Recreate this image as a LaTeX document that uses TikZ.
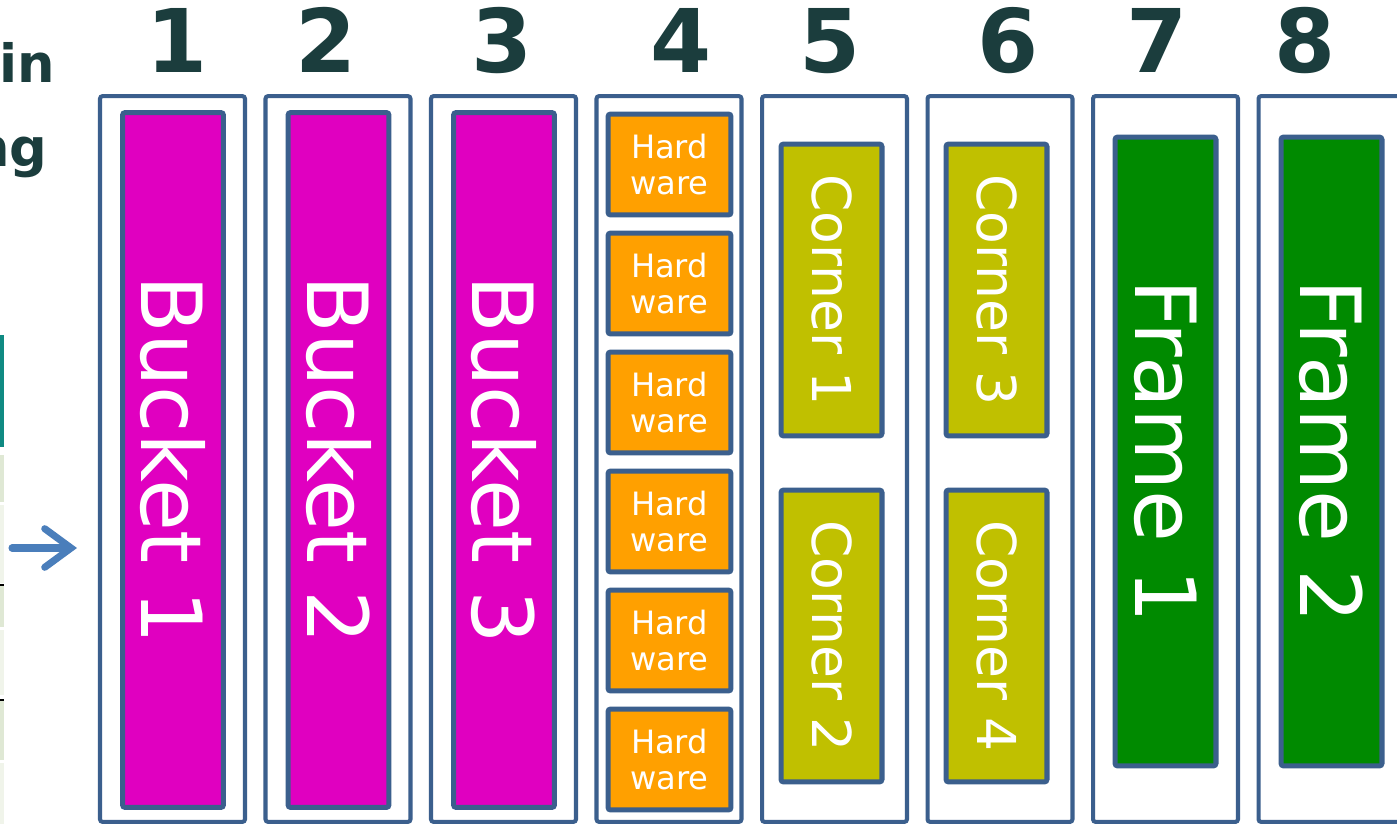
\documentclass[tikz,border=0pt]{standalone}
\usepackage{fontspec}
\setmainfont{DejaVu Sans}
\usepackage{xcolor}
\definecolor{cEdge}{HTML}{3B5F8D}
\definecolor{cBucket}{HTML}{E000C0}
\definecolor{cHw}{HTML}{FFA000}
\definecolor{cCorner}{HTML}{C0C000}
\definecolor{cFrame}{HTML}{008A00}
\definecolor{cNum}{HTML}{1B3D3D}
\definecolor{cArrow}{HTML}{4A7EBB}
\definecolor{cTeal}{HTML}{0F8A82}
\definecolor{cCellA}{HTML}{DFE8D4}
\definecolor{cCellB}{HTML}{F0F4EA}
\usepackage{tikz}
\usetikzlibrary{positioning,arrows.meta}
\tikzset{
  col-box/.style={draw=cEdge,line width=2.3pt,rounded corners=1.5pt,
    minimum width=2.9cm,minimum height=14.52cm,inner sep=0pt},
  part-box/.style={draw=cEdge,line width=2.85pt,rounded corners=1.5pt,
    inner sep=0pt,text=white},
  bucket-box/.style={part-box,fill=cBucket,rotate=-90,
    minimum width=13.9cm,minimum height=2.02cm,
    font=\fontsize{48}{52}\selectfont},
  hw-box/.style={part-box,fill=cHw,align=center,
    minimum width=2.46cm,minimum height=2.02cm,
    font=\fontsize{18.3}{21}\selectfont},
  corner-box/.style={part-box,fill=cCorner,rotate=-90,
    minimum width=5.84cm,minimum height=2.02cm,
    font=\fontsize{30.5}{34}\selectfont},
  frame-box/.style={part-box,fill=cFrame,rotate=-90,
    minimum width=12.58cm,minimum height=2.02cm,
    font=\fontsize{48}{52}\selectfont},
  col-num/.style={text=cNum,anchor=base,inner sep=0pt,
    font=\bfseries\fontsize{50}{56}\selectfont},
  side-text/.style={text=cNum,anchor=base east,inner sep=0pt,
    font=\bfseries\fontsize{30}{34}\selectfont},
  arrow/.style={-{Straight Barb[length=15pt,width=22pt,line cap=round]},
    line width=4pt,line cap=round,draw=cArrow},
}
\begin{document}
\begin{tikzpicture}[x=0.02cm,y=-0.02cm]
  \clip (0,0) rectangle (1397,824);
  \fill[white] (0,0) rectangle (1397,824);
  % table edge cut off at the left
  \fill[cTeal] (0,335) rectangle (4,447);
  \fill[cCellA] (0,455) rectangle (4,502);
  \fill[cCellB] (0,505) rectangle (4,583);
  \fill[cCellA] (0,586) rectangle (4,627);
  \fill[cCellB] (0,630) rectangle (4,695);
  \fill[cCellA] (0,701) rectangle (4,760);
  \fill[cCellB] (0,763) rectangle (4,824);
  \fill[black] (0,584) rectangle (4,586);
  \fill[black] (0,699) rectangle (4,701);
  \node[side-text] (side1) at (55,83) {in};
  \node[side-text] (side2) at (48,167) {ng};
  \coordinate (arr-tail) at (12,548);
  \coordinate (arr-tip) at (77,548);
  \draw[arrow] (arr-tail) -- (arr-tip);
  \foreach \i in {1,...,8}
    \node[col-box] (col\i) at ({172.5+165.5*(\i-1)},459) {};
  \foreach \n/\nx in {1/177,2/326,3/502,4/681,5/830,6/1008,7/1157,8/1305}
    \node[col-num] (num\n) at (\nx,73) {\n};
  \foreach \i in {1,2,3}
    \node[bucket-box] (bucket\i) at ({173+165.5*(\i-1)},460) {Bucket \i};
  \foreach \k in {1,...,6}
    \node[hw-box] (hw\k) at (669.5,{164.5+119*(\k-1)}) {Hard\\ware};
  \node[corner-box] (corner1) at (831.5,290) {Corner 1};
  \node[corner-box] (corner2) at (831.5,636) {Corner 2};
  \node[corner-box] (corner3) at (996.5,290) {Corner 3};
  \node[corner-box] (corner4) at (996.5,636) {Corner 4};
  \node[frame-box] (frame1) at (1165.5,451.5) {Frame 1};
  \node[frame-box] (frame2) at (1331.5,451.5) {Frame 2};
\end{tikzpicture}
\end{document}
